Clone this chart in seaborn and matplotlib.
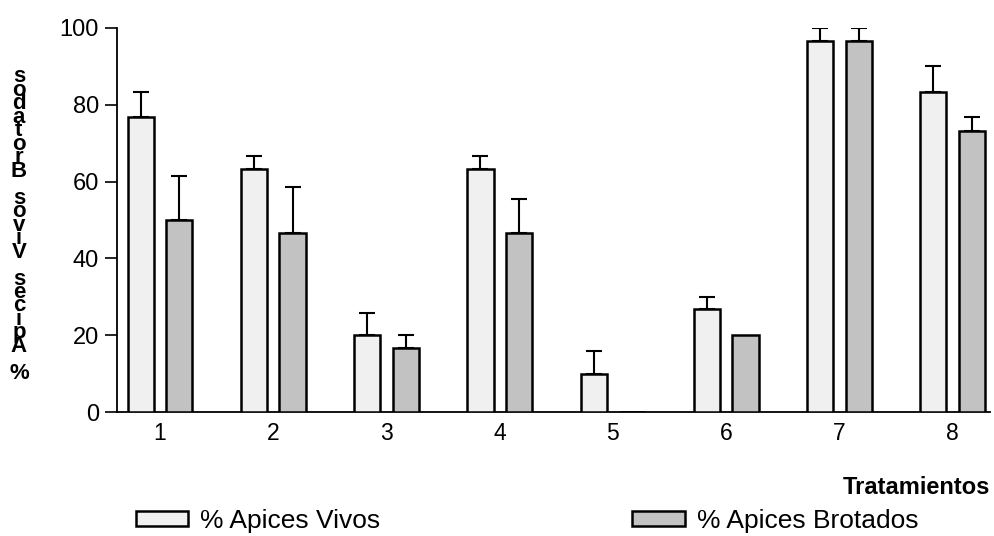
import numpy as np
import pandas as pd
import matplotlib
matplotlib.use("Agg")
import matplotlib.pyplot as plt
import seaborn as sns

tratamientos = ["1", "2", "3", "4", "5", "6", "7", "8"]
series = ["% Apices Vivos", "% Apices Brotados"]
vivos = [76.7, 63.3, 20.0, 63.3, 10.0, 26.7, 96.7, 83.3]
vivos_err = [6.7, 3.4, 5.8, 3.4, 5.8, 3.3, 3.3, 6.7]
brotados = [50.0, 46.7, 16.7, 46.7, 0.0, 20.0, 96.7, 73.3]
brotados_err = [11.5, 11.9, 3.3, 8.8, 0.0, 0.0, 3.3, 3.4]
colores = ["#f0f0f0", "#c2c2c2"]

sns.set_theme(style="white")
plt.rcParams["font.family"] = ["Liberation Sans", "DejaVu Sans"]
plt.rcParams.update({
    "text.color": "black",
    "axes.labelcolor": "black",
    "xtick.color": "black",
    "ytick.color": "black",
})

df = pd.DataFrame({
    "Tratamiento": tratamientos * 2,
    "Serie": [series[0]] * len(vivos) + [series[1]] * len(brotados),
    "Valor": vivos + brotados,
})

fig = plt.figure(figsize=(9.95, 5.36), dpi=100)
ax = fig.add_axes([0.1176, 0.2313, 0.8774, 0.7165])

sns.barplot(data=df, x="Tratamiento", y="Valor", hue="Serie",
            hue_order=series, palette=colores, errorbar=None,
            width=0.68, gap=0.32, edgecolor="black", linewidth=1.8,
            saturation=1, ax=ax)

bar_groups = list(ax.containers)
handles = [cont.patches[0] for cont in bar_groups]
ax.get_legend().remove()
for cont in bar_groups:
    for p in cont.patches:
        p.set_zorder(3)

# error bars (upper only) over each bar
for cont, errs in zip(bar_groups, [vivos_err, brotados_err]):
    xs = np.array([p.get_x() + p.get_width() / 2 for p in cont.patches])
    hs = np.array([p.get_height() for p in cont.patches])
    e = np.array(errs)
    keep = e > 0
    ax.errorbar(xs[keep], hs[keep],
                yerr=[np.zeros(keep.sum()), e[keep]],
                fmt="none", ecolor="black", elinewidth=1.5,
                capsize=6, capthick=1.5, zorder=1)

ax.set_ylim(0, 100)
ax.set_xlim(-0.38, 7.33)
ax.set_yticks([0, 20, 40, 60, 80, 100])
ax.tick_params(axis="y", length=9, width=1.2, direction="out",
               labelsize=17, pad=4, left=True)
ax.tick_params(axis="x", length=0, labelsize=16.5, pad=7)
for s in ["top", "right"]:
    ax.spines[s].set_visible(False)
for s in ["left", "bottom"]:
    ax.spines[s].set_color("black")
    ax.spines[s].set_linewidth(1.3)

ax.set_xlabel("Tratamientos", fontsize=17, fontweight="bold")
ax.xaxis.set_label_coords(1.0, -0.167)
ax.xaxis.label.set_ha("right")
ax.set_ylabel("")

ylab = "% Apices Vivos Brotados"
fig.text(0.019, 0.58, "\n".join(reversed(ylab)), fontsize=16,
         fontweight="bold", ha="center", va="center", linespacing=0.53)

for h, lab, x0 in zip(handles, series, [0.1256, 0.625]):
    fig.legend(handles=[h], labels=[lab], loc="center left",
               bbox_to_anchor=(x0, 0.028), frameon=False, fontsize=19,
               handlelength=2.0, handleheight=0.45, handletextpad=0.45,
               borderaxespad=0)

fig.savefig("out.png", dpi=100, facecolor="white")
